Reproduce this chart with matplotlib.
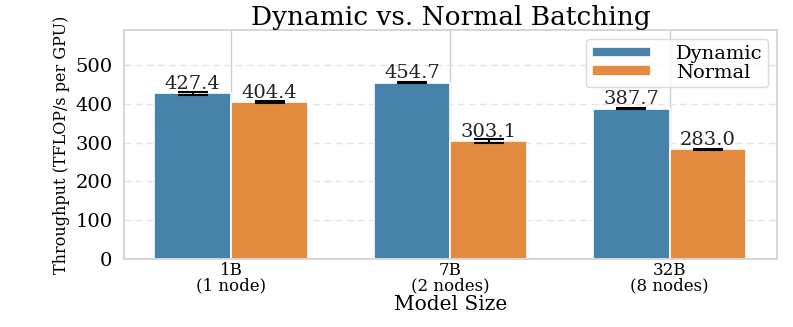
import matplotlib
matplotlib.use("Agg")
import matplotlib.pyplot as plt
import numpy as np

categories = ["1B\n(1 node)", "7B\n(2 nodes)", "32B\n(8 nodes)"]
series_names = ["Dynamic", "Normal"]
dynamic_vals = [427.4, 454.7, 387.7]
normal_vals = [404.4, 303.1, 283.0]
dynamic_err = [4.0, 2.0, 1.5]
normal_err = [3.0, 5.0, 1.5]
yticks = [0, 100, 200, 300, 400, 500]

colors = ["#4682A9", "#E38B3F"]

plt.rcParams["font.family"] = ["DejaVu Serif"]

fig = plt.figure(figsize=(7.93, 3.27), dpi=100)
ax = fig.add_axes([0.156, 0.208, 0.824, 0.700])

x = np.arange(len(categories))
w = 0.35
for i, (vals, errs, name) in enumerate(zip([dynamic_vals, normal_vals],
                                            [dynamic_err, normal_err],
                                            series_names)):
    pos = x + (i - 0.5) * w
    ax.bar(pos, vals, width=w, color=colors[i], edgecolor="white",
           linewidth=1.2, label=name, zorder=2)
    ax.errorbar(pos, vals, yerr=errs, fmt="none", ecolor="black",
                elinewidth=1.5, capsize=11, capthick=1.5, zorder=3)
    for p, v in zip(pos, vals):
        ax.text(p, v + 1, f"{v:.1f}", ha="center", va="bottom",
                fontsize=14, color="#222222", zorder=4)

ax.set_xlim(-0.49, 2.49)
ax.set_ylim(0, 590)
ax.set_yticks(yticks)
ax.set_xticks(x)
ax.set_xticklabels(categories, fontsize=12, linespacing=0.9)
ax.tick_params(axis="y", labelsize=14, length=0, pad=8)
ax.tick_params(axis="x", length=0, pad=2)

ax.grid(axis="y", linestyle=(0, (5, 3)), color="#e3e3e3", linewidth=1.0, zorder=0)
ax.grid(axis="x", linestyle="-", color="#cccccc", linewidth=1.0, zorder=0)
ax.set_axisbelow(True)
for s in ax.spines.values():
    s.set_color("#d0d0d0")
    s.set_linewidth(1.2)

ax.set_title("Dynamic vs. Normal Batching", fontsize=19, pad=3)
ax.set_xlabel("Model Size", fontsize=14.5, labelpad=0.5)
ax.set_ylabel("Throughput (TFLOP/s per GPU)", fontsize=11.5, labelpad=4)

leg = ax.legend(loc="upper right", fontsize=14, handlelength=3.0,
                handleheight=0.45, handletextpad=1.3, labelspacing=0.05,
                borderpad=0.3, frameon=True, fancybox=True,
                borderaxespad=0.45)
leg.get_frame().set_edgecolor("#d0d0d0")
leg.get_frame().set_linewidth(1.0)

fig.savefig("out.png", dpi=100)
